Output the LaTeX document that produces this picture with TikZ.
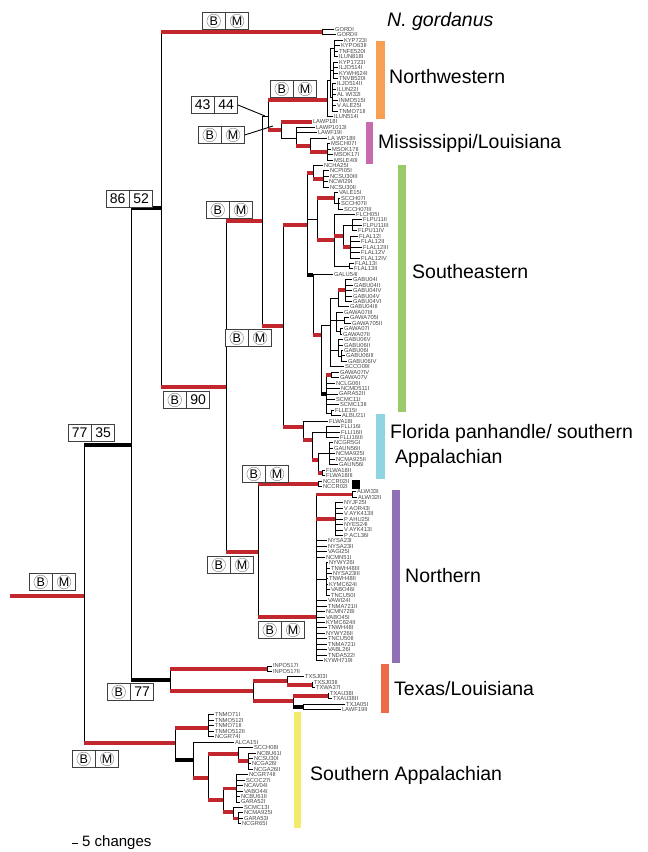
\documentclass[tikz,border=0pt]{standalone}
\usepackage{fontspec}
\setmainfont{Liberation Sans}
\usepackage{tikz}
\usetikzlibrary{positioning}

\definecolor{brred}{HTML}{C1272D}
\definecolor{nwbar}{HTML}{F7A053}
\definecolor{msbar}{HTML}{C76BAE}
\definecolor{sebar}{HTML}{9ACA6A}
\definecolor{flbar}{HTML}{8FD4E1}
\definecolor{nobar}{HTML}{8F70B4}
\definecolor{txbar}{HTML}{EE6A4B}
\definecolor{sabar}{HTML}{F4EA6C}

% elbow from parent to child: thin vertical, styled horizontal
\newcommand{\branch}[3][kb]{\draw[kb] (#2) -- (#2 |- #3); \draw[#1] (#2 |- #3) -- (#3);}
% support boxes
\newcommand{\bmbox}[2]{\node[ring, anchor=north west] (#1b) at (#2) {B}; \node[ring, right=0pt of #1b] (#1m) {M};}
\newcommand{\numbox}[4]{\node[cell, anchor=north west] (#1b) at (#2) {#3}; \node[cell, right=0pt of #1b] (#1m) {#4};}
\newcommand{\bnbox}[3]{\node[ring, anchor=north west] (#1b) at (#2) {B}; \node[cell, right=0pt of #1b] (#1m) {#3};}

\begin{document}
\begin{tikzpicture}[x=1pt, y=-1pt,
    kb/.style={line width=0.9pt},
    rb/.style={draw=brred, line width=3.6pt},
    tb/.style={line width=3.6pt},
    leaf/.style={anchor=west, inner sep=0.8pt, text=black!72, font=\fontsize{5.8}{6}\selectfont},
    cell/.style={draw=black!75, line width=0.9pt, fill=white, minimum width=22.5pt, minimum height=17pt, inner sep=0pt, font=\fontsize{14}{14}\selectfont},
    ring/.style={cell, font=\fontsize{12.5}{12.5}\selectfont, path picture={\draw[black!45, line width=0.5pt] (path picture bounding box.center) circle (6.8pt);}},
    clade/.style={anchor=west, inner sep=0pt, font=\fontsize{19.5}{20}\selectfont}
]
\useasboundingbox (0,0) rectangle (648,852);

% Leaves
\foreach \x/\t [count=\i from 0] in {
  334/GORDI, 336/GORDII,
  343/KYP723I, 340/KYPO63II, 338/TNFE520I, 338/ILUN818I, 338/KYP1723I, 338/ILJO514I, 338/KYWH624I, 338/TNVB520I,
  336/ILJO514II, 336/ILUN22I, 336/AL WI32I, 338/INMO515I, 336/V ALE25I, 338/TNMO71II, 333/ILUN514I,
  312/LAWP18I, 315/LAWP1013I, 317/LAWF19I, 327/LA WP18II, 330/MSCH07I, 331/MSOK17II, 333/MSOK17I, 333/MSLE40I,
  323/NCHA25I, 329/NCPI05I, 329/NCSU30III, 328/NCWI29I, 329/NCSU30II,
  338/VALE15I, 340/SCCH07I, 340/SCCH07II, 343/SCCH07III,
  355/FLCH05I, 362/FLPU11II, 362/FLPU11III, 357/FLPU11IV, 358/FLAL12I, 360/FLAL12II, 362/FLAL12III, 360/FLAL12V,
  360/FLAL12IV, 354/FLAL13I, 353/FLAL13II,
  333/GALU54I, 352/GABU04I, 353/GABU04II, 352/GABU04IV, 352/GABU04V, 352/GABU04VI, 349/GABU04III,
  343/GAWA07III, 349/GAWA705I, 351/GAWA705II, 343/GAWA07I, 342/GAWA07II,
  343/GABU06V, 343/GABU06II, 343/GABU06I, 345/GABU06III, 347/GABU06IV, 344/SCCO09I,
  339/GAWA07IV, 339/GAWA07V, 335/NCLG06I, 340/NCMD511I, 338/GARA52II, 335/SCMC11I, 339/SCMC13II, 334/FLLE15I, 341/ALBU21I,
  328/FLWA18I, 340/FLLI16I, 340/FLLI16II, 339/FLLI16III, 333/NCGR5GI, 333/GAUN56II, 335/NCMA925I, 335/NCMA925II,
  338/GAUN56I, 325/FLWA18II, 325/FLWA18III,
  322/NCCR02II, 322/NCCR02I,
  356/ALWI33I, 357/ALWI32II, 343/NYJF25I, 343/V AOR43I, 343/V AYK413II, 343/P AHU25I, 343/NYES24I, 343/V AYK413I, 343/P ACL36I,
  327/NYSA23I, 327/NYSA23II, 327/VAGI25I, 325/NCMN51I, 328/NYWY26I, 330/TNWH48III, 332/NYSA23III, 328/TNWH48II,
  328/KYMC624I, 330/VABO46I, 330/TNCU50I, 327/VAWI24I, 327/TNMA721II, 325/NCMN728I, 325/VABO45I, 325/KYMC624II,
  327/TNWH48I, 325/NYWY26II, 327/TNCU50II, 327/TNMA721I, 327/VABL26I, 327/TNDA522I, 323/KYWH719I,
  272/INPO517I, 272/INPO517II, 304/TXSJ03I, 313/TXSJ03II, 315/TXWA37I, 329/TXAU38I, 332/TXAU38II, 345/TXJA05I, 341/LAWF19II,
  214/TNMO71I, 214/TNMO512I, 214/TNMO71II, 214/TNMO512II, 214/NCGR74I, 234/ALCA15I, 253/SCCH08I, 256/NCBU61I,
  253/NCSU30I, 251/NCGA26I, 253/NCGA26II, 248/NCGR74II, 245/SCOC27I, 243/NCAV04I, 243/VABO44I, 240/NCBU61II,
  240/GARA52I, 243/SCMC13I, 243/NCMA925I, 243/GARA53I, 241/NCGR65I}
  \node[leaf] (L\i) at (\x, 29.5+5.44*\i) {\t};

% Internal nodes
\coordinate (stem) at (10,596);
\coordinate (r0) at (84,596);
\coordinate (a) at (131,445);
\coordinate (b) at (161,208);
\coordinate (g) at (322,32.2);
\coordinate (c) at (226,387);
\coordinate (d) at (262,221);
\coordinate (e) at (268,116);
\coordinate (nw) at (327,100);
\coordinate (nw1) at (330,80);
\coordinate (nw2) at (334,48.5);
\coordinate (nw3) at (333,70.3);
\coordinate (nw4) at (332,97.5);
\coordinate (ms) at (281,130);
\coordinate (ms1) at (296,138);
\coordinate (ms2) at (310,146);
\coordinate (ms3) at (327,152);
\coordinate (f) at (283,326);
\coordinate (se) at (307,225);
\coordinate (se1) at (313,173);
\coordinate (se1a) at (323,179);
\coordinate (se2) at (317,219);
\coordinate (se2a) at (334,198);
\coordinate (se2a1) at (338,203.5);
\coordinate (se2b) at (334,240);
\coordinate (se2b1) at (343,236);
\coordinate (se2b2) at (349,266);
\coordinate (se2b3) at (352,225);
\coordinate (se2b4) at (350,247);
\coordinate (se3) at (313,275);
\coordinate (ga) at (321,335);
\coordinate (gb) at (330,325);
\coordinate (gb1) at (338,298);
\coordinate (gb1a) at (345,290);
\coordinate (gb2) at (336,320);
\coordinate (gb2a) at (344,320.5);
\coordinate (gb2b) at (340,331.4);
\coordinate (gb3) at (338,350);
\coordinate (gb3a) at (341,356);
\coordinate (gc) at (326,394);
\coordinate (gc1) at (331,375);
\coordinate (gc2) at (331,413);
\coordinate (fl) at (303,427);
\coordinate (fl1) at (312,440);
\coordinate (fl2) at (326,432);
\coordinate (fl3) at (318,460);
\coordinate (fl4) at (329,453.8);
\coordinate (fl5) at (322,472.9);
\coordinate (n) at (258,552);
\coordinate (nc) at (318,484);
\coordinate (no) at (316,617);
\coordinate (no1) at (352,494.6);
\coordinate (no2) at (335,519);
\coordinate (no3) at (326,579);
\coordinate (tx) at (170,680);
\coordinate (tx1) at (267,668.7);
\coordinate (tx2) at (253,691);
\coordinate (tx3) at (287,681);
\coordinate (tx4) at (293,701);
\coordinate (tx5) at (312,685);
\coordinate (tx6) at (328,695.9);
\coordinate (tx7) at (303,706.8);
\coordinate (sa) at (175,743);
\coordinate (sa1) at (208,728);
\coordinate (sa2) at (193,760);
\coordinate (sa3) at (208,778);
\coordinate (sa4) at (238,754);
\coordinate (sa5) at (223,800);
\coordinate (sa6) at (248,761);
\coordinate (sa7) at (236,788.4);
\coordinate (sa8) at (233,812);
\coordinate (sa9) at (238,818.3);

% Backbone
\draw[rb] (stem) -- (r0);
\branch[tb]{r0}{a}
\branch[rb]{r0}{sa}
\branch[tb]{a}{b}
\branch[tb]{a}{tx}
\branch[rb]{b}{g}
\branch[rb]{b}{c}
\branch[rb]{c}{d}
\branch[rb]{c}{n}
\branch{d}{e}
\branch[rb]{d}{f}

% N. gordanus
\branch{g}{L0.west}
\branch{g}{L1.west}

% Northwestern
\branch[rb]{e}{nw}
\branch{nw}{nw1}
\branch{nw}{L16.west}
\branch{nw1}{nw2}
\branch{nw1}{nw3}
\branch{nw1}{nw4}
\foreach \k in {2,...,5} {\branch{nw2}{L\k.west}}
\foreach \k in {6,...,9} {\branch{nw3}{L\k.west}}
\foreach \k in {10,...,15} {\branch{nw4}{L\k.west}}

% Mississippi/Louisiana
\branch[rb]{e}{ms}
\branch[rb]{ms}{L17.west}
\branch{ms}{ms1}
\branch{ms1}{L18.west}
\branch{ms1}{L19.west}
\branch[rb]{ms1}{ms2}
\branch{ms2}{L20.west}
\branch[rb]{ms2}{ms3}
\foreach \k in {21,...,24} {\branch{ms3}{L\k.west}}

% Southeastern
\branch[rb]{f}{se}
\branch[rb]{se}{se1}
\branch{se}{se2}
\branch[tb]{se}{se3}
\branch{se1}{L25.west}
\branch[rb]{se1}{se1a}
\foreach \k in {26,...,29} {\branch{se1a}{L\k.west}}
\branch[rb]{se2}{se2a}
\branch[rb]{se2}{se2b}
\branch{se2a}{L30.west}
\branch{se2a}{se2a1}
\foreach \k in {31,...,33} {\branch{se2a1}{L\k.west}}
\branch{se2b}{L34.west}
\branch[rb]{se2b}{se2b1}
\branch{se2b}{se2b2}
\branch{se2b1}{se2b3}
\branch[rb]{se2b1}{se2b4}
\foreach \k in {35,...,37} {\branch{se2b3}{L\k.west}}
\foreach \k in {38,...,42} {\branch{se2b4}{L\k.west}}
\foreach \k in {43,44} {\branch{se2b2}{L\k.west}}
\branch{se3}{L45.west}
\branch[rb]{se3}{ga}
\branch{ga}{gb}
\branch[tb]{ga}{gc}
\branch{gb}{gb1}
\branch{gb}{gb2}
\branch{gb}{gb3}
\branch{gb}{L62.west}
\branch[rb]{gb1}{gb1a}
\branch{gb1}{L51.west}
\foreach \k in {46,...,50} {\branch{gb1a}{L\k.west}}
\branch{gb2}{L52.west}
\branch{gb2}{gb2a}
\branch{gb2}{gb2b}
\foreach \k in {53,54} {\branch{gb2a}{L\k.west}}
\foreach \k in {55,56} {\branch{gb2b}{L\k.west}}
\branch{gb3}{L57.west}
\branch{gb3}{L58.west}
\branch{gb3}{gb3a}
\foreach \k in {59,...,61} {\branch{gb3a}{L\k.west}}
\branch[rb]{gc}{gc1}
\foreach \k in {63,64} {\branch{gc1}{L\k.west}}
\foreach \k in {65,...,69} {\branch{gc}{L\k.west}}
\branch{gc}{gc2}
\foreach \k in {70,71} {\branch{gc2}{L\k.west}}

% Florida panhandle / southern Appalachian
\branch[rb]{f}{fl}
\branch{fl}{L72.west}
\branch[rb]{fl}{fl1}
\branch{fl1}{fl2}
\branch[rb]{fl1}{fl3}
\foreach \k in {73,...,75} {\branch{fl2}{L\k.west}}
\branch{fl3}{fl4}
\branch[rb]{fl3}{fl5}
\foreach \k in {76,...,80} {\branch{fl4}{L\k.west}}
\foreach \k in {81,82} {\branch{fl5}{L\k.west}}

% Northern
\branch[rb]{n}{nc}
\branch[rb]{n}{no}
\foreach \k in {83,84} {\branch{nc}{L\k.west}}
\branch[rb]{no}{no1}
\branch[rb]{no}{no2}
\branch{no}{no3}
\foreach \k in {85,86} {\branch{no1}{L\k.west}}
\foreach \k in {87,...,93} {\branch{no2}{L\k.west}}
\foreach \k in {94,...,97} {\branch{no}{L\k.west}}
\foreach \k in {98,...,104} {\branch{no3}{L\k.west}}
\foreach \k in {105,...,116} {\branch{no}{L\k.west}}

% Texas/Louisiana
\branch[rb]{tx}{tx1}
\branch[rb]{tx}{tx2}
\foreach \k in {117,118} {\branch{tx1}{L\k.west}}
\branch[rb]{tx2}{tx3}
\branch[rb]{tx2}{tx4}
\branch{tx3}{L119.west}
\branch[rb]{tx3}{tx5}
\foreach \k in {120,121} {\branch{tx5}{L\k.west}}
\branch[rb]{tx4}{tx6}
\branch[tb]{tx4}{tx7}
\foreach \k in {122,123} {\branch{tx6}{L\k.west}}
\foreach \k in {124,125} {\branch{tx7}{L\k.west}}

% Southern Appalachian
\branch[rb]{sa}{sa1}
\branch[tb]{sa}{sa2}
\foreach \k in {126,...,130} {\branch{sa1}{L\k.west}}
\branch{sa2}{L131.west}
\branch[rb]{sa2}{sa3}
\branch[rb]{sa3}{sa4}
\branch[rb]{sa3}{sa5}
\branch{sa4}{L132.west}
\branch[rb]{sa4}{sa6}
\foreach \k in {133,...,136} {\branch{sa6}{L\k.west}}
\branch[rb]{sa5}{sa7}
\branch[rb]{sa5}{sa8}
\foreach \k in {137,...,142} {\branch{sa7}{L\k.west}}
\branch{sa8}{L143.west}
\branch[rb]{sa8}{sa9}
\foreach \k in {144,...,146} {\branch{sa9}{L\k.west}}

% Support boxes
\bmbox{sgor}{202,12}
\bmbox{snw}{270,80}
\numbox{sbe}{191,96}{43}{44}
\bmbox{sms}{198,126}
\numbox{sb}{106,190}{86}{52}
\bmbox{sd}{206,201}
\bmbox{sf}{225,329}
\bnbox{sc}{163,391}{90}
\numbox{sa}{68,424}{77}{35}
\bmbox{snc}{242,465}
\bmbox{sn}{207,556}
\bmbox{sr}{29,573}
\bmbox{sno}{258,621}
\bnbox{stx}{107,683}{77}
\bmbox{ssa}{72,750}

% Pointers
\coordinate (pe) at (265,116);
\coordinate (pms) at (273,126);
\draw[kb] (sbem.east) -- (pe);
\draw[kb] (smsm.east) -- (pms);

% Clade bars
\fill[nwbar] (376,41) rectangle (385,119);
\fill[msbar] (366,122) rectangle (373,164);
\fill[sebar] (398,165) rectangle (406,412);
\fill[flbar] (376,414) rectangle (385,479);
\fill[nobar] (392,490) rectangle (400,663);
\fill[txbar] (381,664) rectangle (389,713);
\fill[sabar] (294,712) rectangle (301,828);
\fill (352,480) rectangle (360,489);

% Clade labels
\node[clade] (tgor) at (387,21) {\itshape N. gordanus};
\node[clade] (tnw) at (389,77) {Northwestern};
\node[clade] (tms) at (378,143) {Mississippi/Louisiana};
\node[clade] (tse) at (412,272) {Southeastern};
\node[clade] (tfl) at (390,433) {Florida panhandle/ southern};
\node[clade] (tfl2) at (395,458) {Appalachian};
\node[clade] (tno) at (405,576) {Northern};
\node[clade] (ttx) at (394,689) {Texas/Louisiana};
\node[clade] (tsa) at (310,775) {Southern Appalachian};

% Scale
\coordinate (s0) at (72,843);
\coordinate (s1) at (78,843);
\draw[kb] (s0) -- (s1);
\node[anchor=west, inner sep=0pt, font=\fontsize{15}{15}\selectfont] (scale) at (82,843) {5 changes};
\end{tikzpicture}
\end{document}
